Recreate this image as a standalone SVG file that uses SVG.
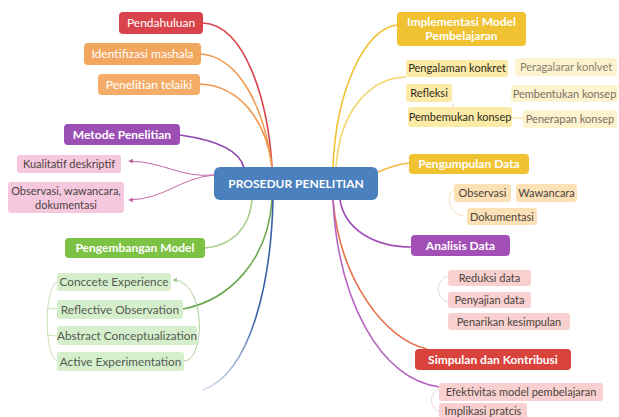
<svg xmlns="http://www.w3.org/2000/svg" width="619" height="417" viewBox="0 0 619 417">
<defs>
<marker id="arrP" viewBox="0 0 6 6" refX="5" refY="3" markerWidth="5" markerHeight="5" orient="auto-start-reverse"><path d="M0,0 L6,3 L0,6 z" fill="#c16aa6"/></marker>
<marker id="arrG" viewBox="0 0 6 6" refX="5" refY="3" markerWidth="5" markerHeight="5" orient="auto"><path d="M0,0 L6,3 L0,6 z" fill="#a9cf98"/></marker>
<linearGradient id="blueFade" x1="0" y1="1" x2="0" y2="0"><stop offset="0" stop-color="#3a5fa8" stop-opacity="0.2"/><stop offset="0.4" stop-color="#3a5fa8"/><stop offset="1" stop-color="#3a5fa8"/></linearGradient>
</defs>
<style>
text{font-family:Lato,"Open Sans","Liberation Sans",sans-serif;text-anchor:middle}
.b{font-weight:bold;font-size:12px;fill:#fff}
.t{font-size:11px;fill:#4a4440}
.g{font-size:11.8px;fill:#555a52}
.c{stroke-width:1.6;fill:none}
.s{stroke-width:1;fill:none}
</style>
<rect width="619" height="417" fill="#fff"/>
<g id="connectors">
<path class="c" d="M203,23 C245,25 268,100 272,167" stroke="#d9434b"/>
<path class="c" d="M201,54 C240,57 265,110 272,167" stroke="#ef9a50"/>
<path class="c" d="M200,84 C240,86 266,120 272,167" stroke="#ef9a50"/>
<path class="c" d="M180,135 C215,140 240,150 244,168" stroke="#8e44ad"/>
<path class="s" d="M214,175 C180,178 165,162 129,161" stroke="#c16aa6" marker-end="url(#arrP)"/>
<path class="s" d="M214,175 C180,178 165,199 129,200" stroke="#c16aa6" marker-end="url(#arrP)"/>
<path class="c" d="M205,248 C235,245 250,225 252,200" stroke="#a6d08a"/>
<path class="c" d="M183,309 C230,300 268,260 272,200" stroke="#6aa84f"/>
<path class="c" d="M203,390 C252,372 271,280 273,200" stroke="url(#blueFade)"/>
<path class="c" d="M333,167 C336,90 365,28 397,25" stroke="#f0c232"/>
<path class="c" d="M336,167 C340,110 370,78 406,77" stroke="#f3d56a"/>
<path class="c" d="M378,172 C390,167 398,164 409,163" stroke="#efb840"/>
<path class="c" d="M340,200 C345,230 375,247 411,247" stroke="#a24fb7"/>
<path class="c" d="M333,200 C340,280 385,340 427,349" stroke="#e8724a"/>
<path class="c" d="M333,200 C338,300 380,380 440,387" stroke="#b565c0"/>
<path class="s" d="M512,118 L523,118" stroke="#f3df9a"/>
<path class="s" d="M409,109 L453,109 L453,103" stroke="#f3df9a"/>
<path class="s" d="M457,188 C446,191 446,212 463,216" stroke="#f5e0b8"/>
<path class="s" d="M448,276 C435,280 435,298 448,302" stroke="#ead6dc"/>
<path class="s" d="M439,389 C429,393 429,408 439,411" stroke="#ead6dc"/>
<path class="s" d="M57,282 C44,286 44,356 57,361 M47,308 L57,309 M47,335 L57,336" stroke="#c9e3bd"/>
<path class="s" d="M184,361 C206,360 206,280 173,280" stroke="#a9cf98" marker-end="url(#arrG)"/>
</g>
<g id="center"><rect x="214" y="167" width="164" height="33" rx="6" fill="#4a80bd"/><text class="b" x="296" y="188">PROSEDUR PENELITIAN</text></g>
<g id="pendahuluan"><rect x="119" y="12" width="84" height="22" rx="4" fill="#d9434b"/><text class="b" x="161" y="27" style="font-weight:normal">Pendahuluan</text></g>
<g id="identifizasi"><rect x="84" y="43" width="117" height="22" rx="4" fill="#f2a65e"/><text class="b" x="142.5" y="58" style="font-weight:normal">Identifizasi mashala</text></g>
<g id="penelitian-telaiki"><rect x="98" y="74" width="102" height="21" rx="4" fill="#f4ad68"/><text class="b" x="149" y="89" style="font-weight:normal">Penelitian telaiki</text></g>
<g id="metode"><rect x="64" y="124" width="116" height="21" rx="4" fill="#9b4fb5"/><text class="b" x="122" y="139">Metode Penelitian</text></g>
<g id="kualitatif"><rect x="17" y="155" width="104" height="18" rx="3" fill="#f6c8de"/><text class="t" x="69" y="168">Kualitatif deskriptif</text></g>
<g id="observasi-left"><rect x="8" y="182" width="116" height="31" rx="3" fill="#f6c8de"/><text class="t" x="66" y="195">Observasi, wawancara,</text><text class="t" x="66" y="209">dokumentasi</text></g>
<g id="pengembangan"><rect x="65" y="238" width="140" height="20" rx="4" fill="#7cc245"/><text class="b" x="135" y="252">Pengembangan Model</text></g>
<g id="concrete"><rect x="57" y="273" width="114" height="18" rx="3" fill="#d5efcc"/><text class="g" x="114" y="286">Conccete Experience</text></g>
<g id="reflective"><rect x="57" y="300" width="126" height="19" rx="3" fill="#d5efcc"/><text class="g" x="120" y="313.5">Reflective Observation</text></g>
<g id="abstract"><rect x="57" y="326" width="140" height="19" rx="3" fill="#d5efcc"/><text class="g" x="127" y="339.5">Abstract Conceptualization</text></g>
<g id="active"><rect x="57" y="352" width="127" height="19" rx="3" fill="#d5efcc"/><text class="g" x="120.5" y="365.5">Active Experimentation</text></g>
<g id="implementasi"><rect x="397" y="12" width="129" height="34" rx="4" fill="#f0c232"/><text class="b" x="461.5" y="26">Implementasi Model</text><text class="b" x="461.5" y="40">Pembelajaran</text></g>
<g id="pengalaman"><rect x="406" y="60" width="102" height="17" rx="3" fill="#fbeba6"/><text class="t" x="457" y="72" style="fill:#2e2a20">Pengalaman konkret</text></g>
<g id="peragalarar"><rect x="515" y="58" width="102" height="18" rx="3" fill="#fdf3cf"/><text class="t" x="566" y="71" style="fill:#8a8070">Peragalarar konlvet</text></g>
<g id="refleksi"><rect x="406" y="84" width="46" height="18" rx="3" fill="#fbeba6"/><text class="t" x="429" y="97" style="fill:#2e2a20">Refleksi</text></g>
<g id="pembentukan"><rect x="511" y="85" width="107" height="17" rx="3" fill="#fdf3cf"/><text class="t" x="564.5" y="98" style="fill:#7a7060">Pembentukan konsep</text></g>
<g id="pembemukan"><rect x="408" y="107" width="104" height="20" rx="3" fill="#fbeba6"/><text class="t" x="460" y="121" style="fill:#2e2a20">Pembemukan konsep</text></g>
<g id="penerapan"><rect x="523" y="110" width="94" height="18" rx="3" fill="#fdf3cf"/><text class="t" x="570" y="123" style="fill:#7a7060">Penerapan konsep</text></g>
<g id="pengumpulan"><rect x="409" y="154" width="120" height="20" rx="4" fill="#efc232"/><text class="b" x="469" y="168">Pengumpulan Data</text></g>
<g id="observasi"><rect x="454" y="184" width="57" height="18" rx="3" fill="#fbe1b5"/><text class="t" x="482.5" y="197">Observasi</text></g>
<g id="wawancara"><rect x="516" y="184" width="61" height="18" rx="3" fill="#fbe1b5"/><text class="t" x="546.5" y="197">Wawancara</text></g>
<g id="dokumentasi"><rect x="467" y="208" width="70" height="17" rx="3" fill="#fbe1b5"/><text class="t" x="502" y="221">Dokumentasi</text></g>
<g id="analisis"><rect x="411" y="235" width="99" height="21" rx="4" fill="#a24fb7"/><text class="b" x="460.5" y="250">Analisis Data</text></g>
<g id="reduksi"><rect x="448" y="270" width="83" height="16" rx="3" fill="#f7d0cf"/><text class="t" x="489.5" y="282">Reduksi data</text></g>
<g id="penyajian"><rect x="448" y="292" width="83" height="16" rx="3" fill="#f7d0cf"/><text class="t" x="489.5" y="304">Penyajian data</text></g>
<g id="penarikan"><rect x="448" y="313" width="122" height="17" rx="3" fill="#f7d0cf"/><text class="t" x="509" y="326">Penarikan kesimpulan</text></g>
<g id="simpulan"><rect x="415" y="349" width="156" height="21" rx="4" fill="#d9433c"/><text class="b" x="493" y="364">Simpulan dan Kontribusi</text></g>
<g id="efektivitas"><rect x="439" y="383" width="164" height="18" rx="3" fill="#f7d0cf"/><text class="t" x="521" y="396">Efektivitas model pembelajaran</text></g>
<g id="implikasi"><rect x="439" y="403" width="88" height="17" rx="3" fill="#f7d0cf"/><text class="t" x="483" y="415">Implikasi pratcis</text></g>
</svg>
